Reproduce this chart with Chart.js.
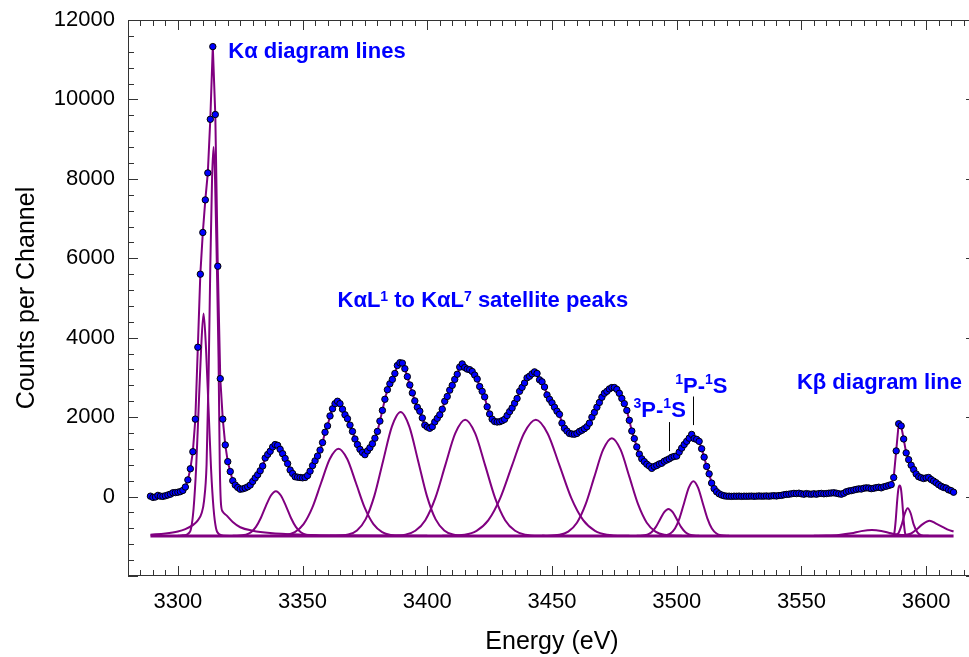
<!DOCTYPE html>
<html><head><meta charset="utf-8">
<script src="https://cdn.jsdelivr.net/npm/chart.js@4.4.1/dist/chart.umd.min.js"></script>
<style>
html,body{margin:0;padding:0;overflow:hidden;background:#fff;width:969px;height:657px}
#wrap{position:relative;width:990px;height:657px}
</style>
</head><body><div id="wrap"><canvas id="c" width="990" height="657"></canvas></div>
<script>
// ---- categories: channel energies (eV) ----
const energies = [
3289,3290,3291,3292,3293,3294,3295,3296,3297,3298,
3299,3300,3301,3302,3303,3304,3305,3306,3307,3308,
3309,3310,3311,3312,3313,3314,3315,3316,3317,3318,
3319,3320,3321,3322,3323,3324,3325,3326,3327,3328,
3329,3330,3331,3332,3333,3334,3335,3336,3337,3338,
3339,3340,3341,3342,3343,3344,3345,3346,3347,3348,
3349,3350,3351,3352,3353,3354,3355,3356,3357,3358,
3359,3360,3361,3362,3363,3364,3365,3366,3367,3368,
3369,3370,3371,3372,3373,3374,3375,3376,3377,3378,
3379,3380,3381,3382,3383,3384,3385,3386,3387,3388,
3389,3390,3391,3392,3393,3394,3395,3396,3397,3398,
3399,3400,3401,3402,3403,3404,3405,3406,3407,3408,
3409,3410,3411,3412,3413,3414,3415,3416,3417,3418,
3419,3420,3421,3422,3423,3424,3425,3426,3427,3428,
3429,3430,3431,3432,3433,3434,3435,3436,3437,3438,
3439,3440,3441,3442,3443,3444,3445,3446,3447,3448,
3449,3450,3451,3452,3453,3454,3455,3456,3457,3458,
3459,3460,3461,3462,3463,3464,3465,3466,3467,3468,
3469,3470,3471,3472,3473,3474,3475,3476,3477,3478,
3479,3480,3481,3482,3483,3484,3485,3486,3487,3488,
3489,3490,3491,3492,3493,3494,3495,3496,3497,3498,
3499,3500,3501,3502,3503,3504,3505,3506,3507,3508,
3509,3510,3511,3512,3513,3514,3515,3516,3517,3518,
3519,3520,3521,3522,3523,3524,3525,3526,3527,3528,
3529,3530,3531,3532,3533,3534,3535,3536,3537,3538,
3539,3540,3541,3542,3543,3544,3545,3546,3547,3548,
3549,3550,3551,3552,3553,3554,3555,3556,3557,3558,
3559,3560,3561,3562,3563,3564,3565,3566,3567,3568,
3569,3570,3571,3572,3573,3574,3575,3576,3577,3578,
3579,3580,3581,3582,3583,3584,3585,3586,3587,3588,
3589,3590,3591,3592,3593,3594,3595,3596,3597,3598,
3599,3600,3601,3602,3603,3604,3605,3606,3607,3608,
3609,3610,3611];

// ---- measured counts per channel ----
const counts = [
10,-20,-10,30,10,5,20,40,60,95,
100,110,125,155,240,420,700,1130,1950,3760,
5600,6650,7470,8150,9500,11330,9620,5800,2970,1950,
1300,880,630,400,290,230,185,195,215,245,
290,380,470,550,650,770,970,1060,1140,1250,
1310,1290,1190,1080,960,830,670,580,500,488,
480,472,480,530,640,780,900,1020,1170,1360,
1620,1780,2030,2210,2340,2400,2340,2200,2060,1960,
1800,1640,1450,1310,1190,1110,1055,1150,1230,1330,
1470,1640,1900,2170,2450,2690,2840,2950,3100,3300,
3370,3360,3220,3020,2810,2610,2410,2250,2150,1980,
1800,1750,1720,1760,1880,1970,2060,2200,2400,2520,
2680,2800,2950,3080,3260,3340,3250,3210,3195,3150,
3060,2960,2770,2650,2510,2260,2080,1950,1890,1877,
1885,1910,1945,2040,2140,2230,2350,2470,2650,2750,
2860,2990,3030,3090,3140,3100,2940,2890,2760,2560,
2450,2360,2250,2150,2070,1850,1720,1650,1590,1575,
1570,1590,1640,1670,1710,1760,1850,2000,2120,2250,
2370,2500,2600,2650,2710,2745,2745,2700,2600,2470,
2340,2170,1920,1650,1460,1250,1070,950,880,815,
770,710,758,783,820,840,890,920,950,990,
1010,1020,1120,1220,1310,1390,1470,1565,1460,1440,
1390,1204,993,758,572,340,200,120,70,40,
20,10,10,5,10,8,12,5,10,8,
10,12,8,10,15,10,12,15,10,18,
20,15,25,30,45,55,60,70,80,75,
85,70,60,75,65,60,70,60,75,80,
70,75,85,90,95,85,70,60,84,120,
140,150,165,180,194,190,210,220,215,200,
210,225,235,220,245,260,280,300,480,1150,
1835,1780,1450,1100,930,790,680,570,500,475,
455,470,480,430,390,350,300,260,230,215,
170,150,110];

// ---- fitted components (offset display baseline), read as [energy, counts] ----
const fitBaseline = -990;
const compKa1 = [[3289,-960],[3295,-930],[3300,-880],[3303,-820],[3306,-720],[3308,-600],[3309.5,-420],[3310.5,-100],[3311.5,800],[3312.3,3000],[3313,5800],[3313.7,8000],[3314.3,8800],[3314.9,8000],[3315.6,5900],[3316.3,3500],[3316.8,800],[3317.3,-200],[3318,-380],[3319.6,-480],[3322,-640],[3325,-772],[3330,-860],[3337,-920],[3350,-960],[3370,-980],[3400,-988]];
const compKa2 = [[3300,-988],[3302,-975],[3304,-940],[3305.3,-800],[3306.3,-300],[3307.3,700],[3308.3,2200],[3309.3,3700],[3310.3,4610],[3311.3,3700],[3312.3,2200],[3313.3,700],[3314.3,-300],[3315.3,-800],[3316.6,-950],[3318.6,-985],[3325,-990]];
const compS1 = [[3322,-989],[3327.3,-959],[3329.3,-898],[3331.3,-763],[3333.3,-533],[3335.3,-235],[3337.3,28],[3339.3,135],[3341.3,28],[3343.3,-235],[3345.3,-533],[3347.3,-763],[3349.3,-898],[3351.3,-959],[3356,-989]];
const compS2 = [[3337,-989],[3343.4,-966],[3346.9,-894],[3350.4,-693],[3353.9,-278],[3357.4,341],[3360.9,945],[3364.4,1204],[3367.9,945],[3371.4,341],[3374.9,-278],[3378.4,-693],[3381.9,-894],[3385.4,-966],[3391,-989]];
const compS3 = [[3361,-989],[3368.3,-956],[3371.8,-853],[3375.3,-569],[3378.8,24],[3382.3,904],[3385.8,1762],[3389.3,2130],[3392.8,1762],[3396.3,904],[3399.8,24],[3403.3,-569],[3406.8,-853],[3410.3,-956],[3417,-989]];
const compS4 = [[3383,-989],[3391.2,-958],[3395.2,-862],[3399.2,-594],[3403.2,-39],[3407.2,785],[3411.2,1590],[3415.2,1935],[3419.2,1590],[3423.2,785],[3427.2,-39],[3431.2,-594],[3435.2,-862],[3439.2,-958],[3447,-989]];
const compS5 = [[3406,-989],[3415,-958],[3419.75,-862],[3424.5,-594],[3429.25,-39],[3434,785],[3438.75,1590],[3443.5,1935],[3448.25,1590],[3453,785],[3457.75,-39],[3462.5,-594],[3467.25,-862],[3472,-958],[3481,-989]];
const compS6 = [[3446,-989],[3453,-963],[3456.5,-882],[3460,-657],[3463.5,-190],[3467,503],[3470.5,1180],[3474,1470],[3477.5,1180],[3481,503],[3484.5,-190],[3488,-657],[3491.5,-882],[3495,-963],[3502,-989]];
const comp3P = [[3484,-989],[3488.2,-960],[3489.9,-898],[3491.6,-770],[3493.3,-578],[3495,-392],[3496.7,-312],[3498.4,-392],[3500.1,-578],[3501.8,-770],[3503.5,-898],[3505.2,-960],[3509,-989]];
const comp1P = [[3493,-989],[3495.6,-975],[3497.45,-930],[3499.3,-804],[3501.15,-542],[3503,-154],[3504.85,225],[3506.7,387],[3508.55,225],[3510.4,-154],[3512.25,-542],[3514.1,-804],[3515.95,-930],[3517.8,-975],[3521,-989]];
const compKb0 = [[3555,-989],[3560,-982],[3565,-965],[3570,-925],[3574,-870],[3578.3,-842],[3582,-865],[3586,-925],[3590,-970],[3596,-989]];
const compKb1 = [[3585,-989],[3586.6,-985],[3587.3,-900],[3587.8,-606],[3588.4,-100],[3588.9,200],[3589.4,278],[3589.9,200],[3590.4,-100],[3591,-606],[3591.5,-900],[3592.2,-985],[3594,-989]];
const compKb2 = [[3586,-989],[3587.5,-975],[3589,-910],[3590.3,-690],[3591.5,-420],[3592.6,-295],[3593.8,-420],[3595,-700],[3596.5,-900],[3598,-970],[3601,-989]];
const compKb3 = [[3588,-989],[3591,-975],[3594,-930],[3596.4,-817],[3598.5,-700],[3601.4,-606],[3604,-680],[3607,-775],[3609,-840],[3611,-880]];
const components = [compKa1, compKa2, compS1, compS2, compS3, compS4, compS5, compS6, comp3P, comp1P, compKb0, compKb1, compKb2, compKb3];

// ---- tick labels ----
const xTickValues = [3300,3350,3400,3450,3500,3550,3600];
const yTickValues = [0,2000,4000,6000,8000,10000,12000];

// ---- annotation texts: [text, isSuperscript] ----
const annotations = [
  {parts:[['Kα diagram lines',0]], x:3320.2, y:11194, sup:0},
  {parts:[['KαL',0],['1',1],[' to KαL',0],['7',1],[' satellite peaks',0]], x:3364, y:4917, sup:4},
  {parts:[['1',1],['P-',0],['1',1],['S',0]], x:3499.4, y:2760, sup:7},
  {parts:[['3',1],['P-',0],['1',1],['S',0]], x:3482.7, y:2146, sup:7},
  {parts:[['Kβ diagram line',0]], x:3548.2, y:2866, sup:0}
];
const leaders = [[3506.7,1800,2520],[3497.0,1144,1876]];

const PURPLE = 'rgb(128,0,128)';
const FONT = '"Liberation Sans", Arial, Helvetica, sans-serif';

const frame = {
  id:'frame',
  afterDraw(chart){
    const {ctx, chartArea:a, scales:{x,y}} = chart;
    ctx.save();
    ctx.strokeStyle = '#333'; ctx.lineWidth = 1;
    ctx.strokeRect(Math.round(a.left)+0.5, Math.round(a.top)+0.5, Math.round(a.right-a.left)-1, Math.round(a.bottom-a.top)-1);
    ctx.beginPath();
    for (let v = 3280; v <= 3620; v += 5) {
      const px = Math.round(x.getPixelForValue(v)) + 0.5;
      const len = (v % 50 === 0) ? 10 : 6;
      ctx.moveTo(px, a.bottom); ctx.lineTo(px, a.bottom - len);
      ctx.moveTo(px, a.top); ctx.lineTo(px, a.top + len);
    }
    for (let v = -2000; v <= 12000; v += 400) {
      const py = Math.round(y.getPixelForValue(v)) + 0.5;
      const len = (v % 2000 === 0) ? 10 : 6;
      ctx.moveTo(a.left, py); ctx.lineTo(a.left + len, py);
      ctx.moveTo(a.right, py); ctx.lineTo(a.right - len, py);
    }
    ctx.stroke();
    // annotations
    ctx.fillStyle = '#0000ff';
    ctx.textBaseline = 'middle';
    ctx.textAlign = 'left';
    annotations.forEach(an => {
      let px = x.getPixelForValue(an.x);
      const py = y.getPixelForValue(an.y);
      an.parts.forEach(([t, s]) => {
        ctx.font = s ? 'bold 14px ' + FONT : 'bold 22px ' + FONT;
        ctx.fillText(t, px, s ? py - an.sup : py);
        px += ctx.measureText(t).width;
      });
    });
    ctx.strokeStyle = '#000';
    ctx.beginPath();
    leaders.forEach(([e, y0, y1]) => {
      const px = Math.round(x.getPixelForValue(e)) + 0.5;
      ctx.moveTo(px, y.getPixelForValue(y0)); ctx.lineTo(px, y.getPixelForValue(y1));
    });
    ctx.stroke();
    ctx.restore();
  }
};

const datasets = [{
  label:'data',
  data: energies.map((e,i)=>({x:e, y:counts[i]})),
  borderColor: PURPLE, borderWidth: 2, tension: 0,
  pointRadius: 3.2, pointBackgroundColor: '#0000ff', pointBorderColor: '#000', pointBorderWidth: 1
}];
components.forEach((c,i)=>datasets.push({
  label:'comp'+i,
  data: c.map(([e,v])=>({x:e, y:v})),
  borderColor: PURPLE, borderWidth: 2, pointRadius: 0, cubicInterpolationMode: 'monotone'
}));
datasets.push({
  label:'baseline',
  data: [{x:energies[0], y:fitBaseline},{x:energies[energies.length-1], y:fitBaseline}],
  borderColor: PURPLE, borderWidth: 3, pointRadius: 0
});

new Chart(document.getElementById('c'), {
  type:'line',
  data:{datasets},
  options:{
    responsive:false, animation:false, devicePixelRatio:1,
    layout:{padding:{top:20,right:14,left:0,bottom:0}},
    plugins:{legend:{display:false}, tooltip:{enabled:false}},
    scales:{
      x:{
        type:'linear', min:3280, max:3620,
        afterBuildTicks: s => { s.ticks = xTickValues.map(v=>({value:v})); },
        afterFit: s => { s.height = 81; s.paddingLeft = 0; s.paddingRight = 0; },
        grid:{display:false, drawTicks:false}, border:{display:false},
        ticks:{color:'#000', padding:13, maxRotation:0, autoSkip:false, font:{family:FONT, size:22}, callback: v => String(v)},
        title:{display:true, text:'Energy (eV)', color:'#000', font:{family:FONT, size:25}, padding:{top:0, bottom:0}}
      },
      y:{
        type:'linear', min:-2000, max:12000,
        afterBuildTicks: s => { s.ticks = yTickValues.map(v=>({value:v})); },
        afterFit: s => { s.width = 128; s.paddingTop = 0; s.paddingBottom = 0; },
        grid:{display:false, drawTicks:false}, border:{display:false},
        ticks:{color:'#000', padding:13, font:{family:FONT, size:22}, callback: v => String(v)},
        title:{display:true, text:'Counts per Channel', color:'#000', font:{family:FONT, size:25}, padding:{top:12, bottom:0}}
      }
    }
  },
  plugins:[frame]
});
</script>
</body></html>
